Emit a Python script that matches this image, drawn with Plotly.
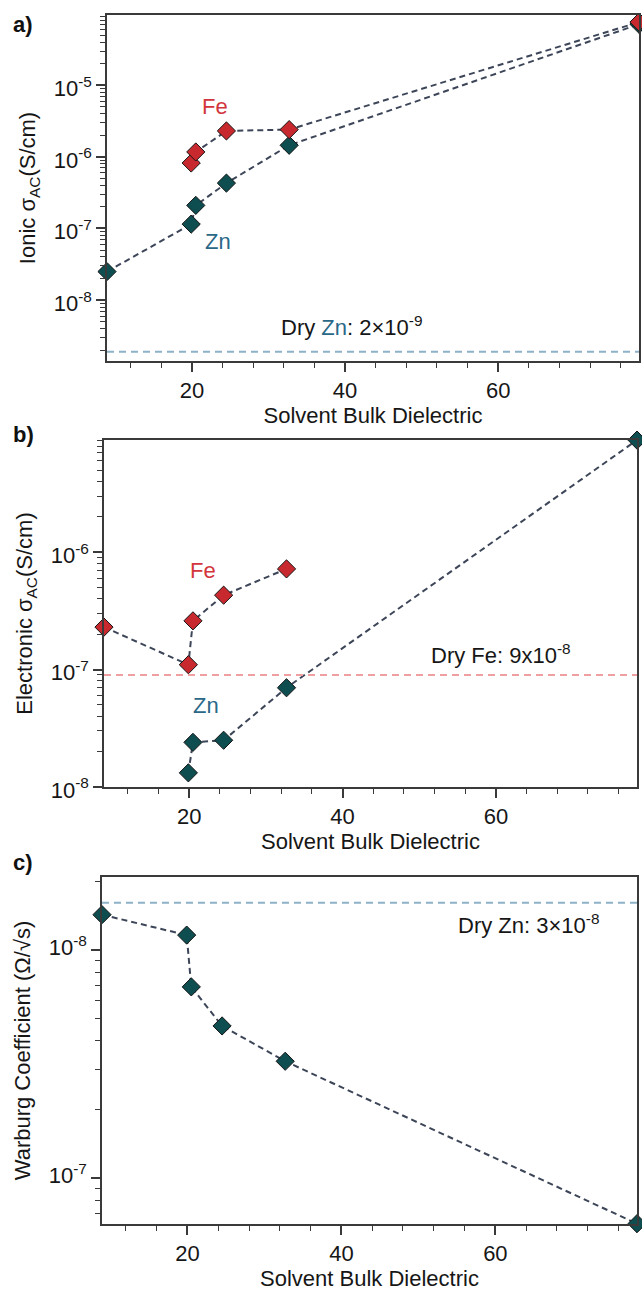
import plotly.graph_objects as go

# ---------------- data ----------------
solvent_dielectric = [8.9, 19.9, 20.5, 24.5, 32.7, 78.4]

ionic_zn = [2.5e-8, 1.15e-7, 2.1e-7, 4.3e-7, 1.45e-6, 7.1e-5]
ionic_fe = [None, 8.2e-7, 1.17e-6, 2.3e-6, 2.4e-6, 7.6e-5]
dry_zn_ionic = 1.9e-9

electronic_fe = [2.3e-7, 1.1e-7, 2.6e-7, 4.3e-7, 7.2e-7, None]
electronic_zn = [None, 1.32e-8, 2.4e-8, 2.5e-8, 7.0e-8, 9.0e-6]
dry_fe_electronic = 9.0e-8

warburg_zn = [7.0e-9, 8.6e-9, 1.45e-8, 2.15e-8, 3.07e-8, 1.58e-7]
dry_zn_warburg = 6.2e-9

x_major_ticks = [20, 40, 60]
x_minor_ticks = [12, 16, 24, 28, 32, 36, 44, 48, 52, 56, 64, 68, 72, 76]

y_ticks_a = [1e-8, 1e-7, 1e-6, 1e-5]
y_ticks_b = [1e-8, 1e-7, 1e-6]
y_ticks_c = [1e-8, 1e-7]

# ---------------- styling ----------------
W, H = 642, 1293
FE_RED = "#c8292f"
ZN_TEAL = "#0e4e50"
FE_TXT = "#d2363c"
ZN_TXT = "#2a6888"
LINE_COL = "#3d4658"
AX_COL = "#3a3a3a"
TXT = "#161616"
FONT = "Liberation Sans, Arial, sans-serif"


def px(x):
    return x / W


def py(y):
    return 1 - y / H


def sup_label(v):
    import math
    e = int(round(math.log10(v)))
    return f"10<sup>{e}</sup>"


def log_minor(lo_dec, hi_dec):
    vals = []
    for d in range(lo_dec, hi_dec + 1):
        for k in range(2, 10):
            vals.append(k * 10.0 ** d)
    return vals


def log_minor_mirrored(lo_dec, hi_dec):
    vals = []
    for d in range(lo_dec, hi_dec + 1):
        for k in range(2, 10):
            vals.append(10.0 ** (d + 1) / k)
    return vals


def xaxis_style(domain, anchor, title):
    return dict(
        domain=domain, anchor=anchor, range=[8.9, 78.4],
        showline=True, linecolor=AX_COL, linewidth=1.5, mirror=True,
        ticks="outside", ticklen=9, tickwidth=1.5, tickcolor=AX_COL,
        tickmode="array", tickvals=x_major_ticks,
        ticktext=[str(v) for v in x_major_ticks],
        minor=dict(ticks="outside", ticklen=5, tickwidth=1.2, tickcolor=AX_COL,
                   tickmode="array", tickvals=x_minor_ticks),
        showgrid=False, zeroline=False,
        tickfont=dict(size=22, color=TXT, family=FONT),
        title=dict(text=title, font=dict(size=22, color=TXT, family=FONT), standoff=2),
        automargin=False,
    )


def yaxis_style(domain, anchor, rng, ticks, minor, title):
    return dict(
        domain=domain, anchor=anchor, type="log", range=rng,
        showline=True, linecolor=AX_COL, linewidth=1.5, mirror=True,
        ticks="outside", ticklen=9, tickwidth=1.5, tickcolor=AX_COL,
        tickmode="array", tickvals=ticks, ticktext=[sup_label(v) for v in ticks],
        minor=dict(ticks="outside", ticklen=5, tickwidth=1.2, tickcolor=AX_COL,
                   tickmode="array", tickvals=minor),
        showgrid=False, zeroline=False,
        tickfont=dict(size=22, color=TXT, family=FONT),
        ticklabelshift=3,
        title=dict(text=title, font=dict(size=22, color=TXT, family=FONT), standoff=12),
        automargin=False,
    )


fig = go.Figure()

dash_line = dict(color=LINE_COL, width=2, dash="6px,4px")


def add_series(xs, ys, color, xa, ya):
    fig.add_trace(go.Scatter(x=xs, y=ys, mode="lines", line=dash_line,
                             connectgaps=True, xaxis=xa, yaxis=ya,
                             showlegend=False, hoverinfo="skip", cliponaxis=False))
    return dict(x=xs, y=ys, color=color, xa=xa, ya=ya)


markers = []
markers.append(add_series(solvent_dielectric, ionic_zn, ZN_TEAL, "x", "y"))
markers.append(add_series(solvent_dielectric, ionic_fe, FE_RED, "x", "y"))
markers.append(add_series(solvent_dielectric, electronic_fe, FE_RED, "x2", "y2"))
markers.append(add_series(solvent_dielectric, electronic_zn, ZN_TEAL, "x2", "y2"))
markers.append(add_series(solvent_dielectric, warburg_zn, ZN_TEAL, "x3", "y3"))

for m in markers:
    fig.add_trace(go.Scatter(
        x=m["x"], y=m["y"], mode="markers", xaxis=m["xa"], yaxis=m["ya"],
        marker=dict(symbol="diamond", size=14, color=m["color"],
                    line=dict(color="#151515", width=1)),
        showlegend=False, cliponaxis=False))

# dry reference lines
dry_lines = [("x", "y", dry_zn_ionic, "#8db1c6"),
             ("x2", "y2", dry_fe_electronic, "#f09fa0"),
             ("x3", "y3", dry_zn_warburg, "#8db1c6")]
for xa, ya, val, col in dry_lines:
    fig.add_shape(type="line", xref=f"{xa} domain", yref=ya, x0=0, x1=1,
                  y0=val, y1=val, line=dict(color=col, width=2, dash="7px,5px"))

yt_a = "Ionic σ<sub>AC</sub>(S/cm)"
yt_b = "Electronic σ<sub>AC</sub>(S/cm)"
yt_c = "Warburg Coefficient (Ω/√s)"
xt = "Solvent Bulk Dielectric"

fig.update_layout(
    width=W, height=H,
    margin=dict(l=0, r=0, t=0, b=0),
    paper_bgcolor="white", plot_bgcolor="white",
    font=dict(family=FONT, color=TXT),
    xaxis=xaxis_style([px(107), px(639)], "y", xt),
    yaxis=yaxis_style([py(361), py(15)], "x", [-8.85, -4.02], y_ticks_a,
                      log_minor(-9, -5), yt_a),
    xaxis2=xaxis_style([px(104), px(637)], "y2", xt),
    yaxis2=yaxis_style([py(787), py(440)], "x2", [-8.0, -5.045], y_ticks_b,
                       log_minor(-8, -6), yt_b),
    xaxis3=xaxis_style([px(102), px(637)], "y3", xt),
    yaxis3=yaxis_style([py(1224), py(877)], "x3", [-6.80, -8.32], y_ticks_c,
                       log_minor_mirrored(-9, -7), yt_c),
)

annotations = [
    dict(text="<b>a)</b>", x=px(11), y=py(25)),
    dict(text="<b>b)</b>", x=px(11), y=py(434)),
    dict(text="<b>c)</b>", x=px(11), y=py(862)),
]
for a in annotations:
    a.update(xref="paper", yref="paper", xanchor="left", yanchor="middle",
             showarrow=False, font=dict(size=22, family=FONT, color="#111"))
    fig.add_annotation(**a)

labels = [
    ("Fe", 215, 106, FE_TXT, "center"),
    ("Zn", 218, 241, ZN_TXT, "center"),
    (f"Dry <span style='color:{ZN_TXT}'>Zn</span>: 2×10<sup>-9</sup>", 279, 326, TXT, "left"),
    ("Fe", 203, 570, FE_TXT, "center"),
    ("Zn", 206, 705, ZN_TXT, "center"),
    ("Dry Fe: 9x10<sup>-8</sup>", 429, 654, TXT, "left"),
    ("Dry Zn: 3×10<sup>-8</sup>", 456, 924, TXT, "left"),
]
for text, xx, yy, col, anchor in labels:
    fig.add_annotation(text=text, x=px(xx), y=py(yy), xref="paper", yref="paper",
                       xanchor=anchor, yanchor="middle", showarrow=False,
                       font=dict(size=22, family=FONT, color=col))

fig.write_html("out.html")
